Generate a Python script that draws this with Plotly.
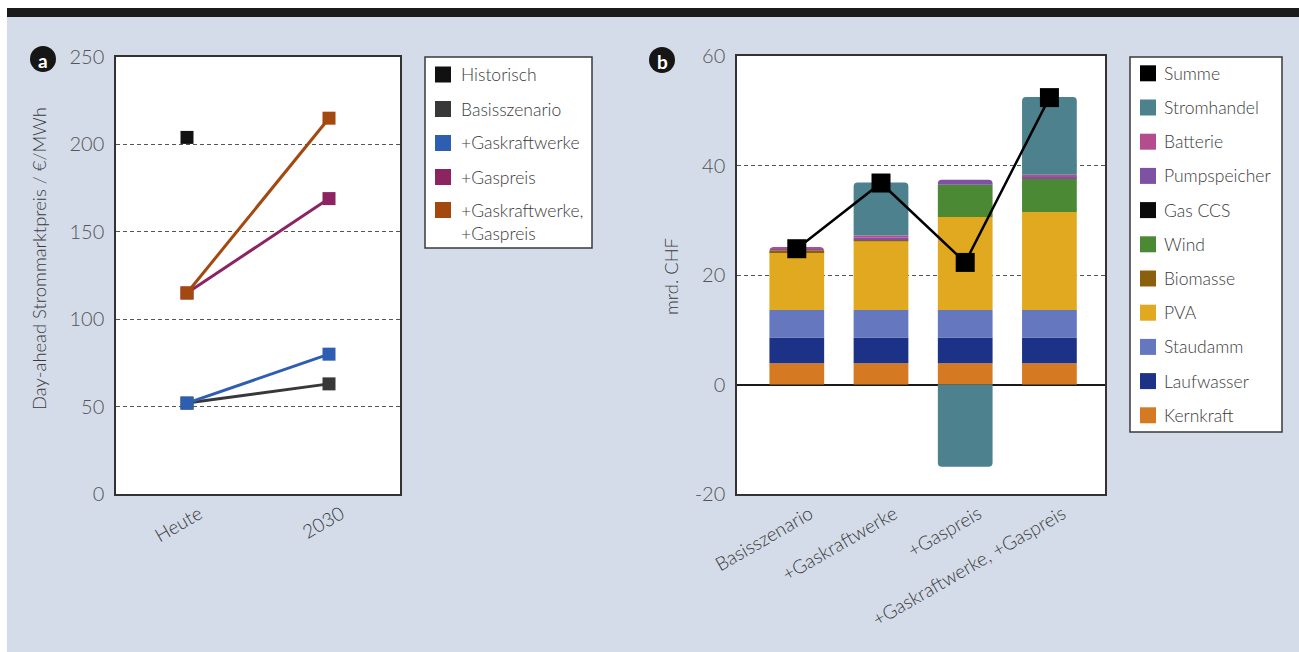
import plotly.graph_objects as go

W, H = 1299, 652

# ---- Panel a: day-ahead electricity prices ----
zeitpunkte = ["Heute", "2030"]
historisch = [204, None]
basisszenario = [52, 63]
gaskraftwerke = [52, 80]
gaspreis = [115, 169]
gaskraftwerke_gaspreis = [115, 215]

serien_a = ["Historisch", "Basisszenario", "+Gaskraftwerke", "+Gaspreis", "+Gaskraftwerke,<br>+Gaspreis"]
farben_a = ["#111111", "#383838", "#2d5eb2", "#8c2462", "#a3480f"]
ticks_a = [0, 50, 100, 150, 200, 250]

# ---- Panel b: costs per scenario (mrd. CHF) ----
szenarien = ["Basisszenario", "+Gaskraftwerke", "+Gaspreis", "+Gaskraftwerke, +Gaspreis"]
kernkraft = [3.9, 3.9, 3.9, 3.9]
laufwasser = [4.7, 4.7, 4.7, 4.7]
staudamm = [5.0, 5.0, 5.0, 5.0]
pva = [10.6, 12.5, 17.0, 17.9]
biomasse = [0.3, 0.4, 0.0, 0.0]
wind = [0.0, 0.0, 5.9, 6.2]
gas_ccs = [0.0, 0.0, 0.0, 0.0]
pumpspeicher = [0.4, 0.3, 0.9, 0.3]
batterie = [0.2, 0.4, 0.0, 0.3]
stromhandel = [0.0, 9.7, -15.0, 14.2]
summe = [24.8, 36.8, 22.3, 52.4]
ticks_b = [-20, 0, 20, 40, 60]

# stacking order from bottom to top
komponenten = [
    ("Kernkraft", kernkraft, "#d57a22"),
    ("Laufwasser", laufwasser, "#1c3287"),
    ("Staudamm", staudamm, "#6577bf"),
    ("PVA", pva, "#e0a920"),
    ("Biomasse", biomasse, "#8a600e"),
    ("Wind", wind, "#4b8934"),
    ("Gas CCS", gas_ccs, "#0a0a0a"),
    ("Pumpspeicher", pumpspeicher, "#7e51a4"),
    ("Batterie", batterie, "#b44d8b"),
    ("Stromhandel", stromhandel, "#4d818e"),
]

FONT = "Lato"
TXT = "#3a3a3a"


def fx(x):
    return x / W


def fy(y):
    return 1 - y / H


fig = go.Figure()

# panel a lines
werte_a = [historisch, basisszenario, gaskraftwerke, gaspreis, gaskraftwerke_gaspreis]
for name, werte, farbe in zip(serien_a, werte_a, farben_a):
    fig.add_trace(go.Scatter(
        x=zeitpunkte, y=werte, name=name, mode="lines+markers",
        line=dict(color=farbe, width=3),
        marker=dict(symbol="square", size=13, color=farbe),
        xaxis="x", yaxis="y", showlegend=False, cliponaxis=False,
    ))

# panel b stacked bars
for name, werte, farbe in komponenten:
    fig.add_trace(go.Bar(
        x=szenarien, y=werte, name=name, marker=dict(color=farbe, line=dict(width=0)),
        width=0.65, xaxis="x2", yaxis="y2", showlegend=False,
    ))

fig.add_trace(go.Scatter(
    x=szenarien, y=summe, name="Summe", mode="lines+markers",
    line=dict(color="#000000", width=2.5),
    marker=dict(symbol="square", size=19, color="#000000"),
    xaxis="x2", yaxis="y2", showlegend=False, cliponaxis=False,
))

achse_y = dict(
    showline=True, mirror=True, linecolor="#333333", linewidth=1.5,
    showgrid=True, gridcolor="#555555", gridwidth=1, griddash="4px,3px",
    ticks="", tickfont=dict(family=FONT, size=20, color="#555555", weight=300),
    ticklabelstandoff=6, zeroline=False, automargin=False,
)
achse_x = dict(
    type="category", showline=True, mirror=True, linecolor="#333333", linewidth=1.5,
    showgrid=False, ticks="", tickangle=-30, zeroline=False, automargin=False,
)

fig.update_layout(
    template="none",
    width=W, height=H,
    margin=dict(l=0, r=0, t=0, b=0, pad=0, autoexpand=False),
    paper_bgcolor="#d4dce9",
    plot_bgcolor="#ffffff",
    barmode="relative",
    barcornerradius=4,
    font=dict(family=FONT, color=TXT),
    xaxis=dict(achse_x, domain=[fx(116), fx(400)], anchor="y", range=[-0.5, 1.5],
               ticklabelshift=12,
               tickfont=dict(family=FONT, size=19, color=TXT, weight=300)),
    yaxis=dict(achse_y, domain=[fy(494), fy(57)], anchor="x", range=[0, 250],
               tickvals=ticks_a, ticktext=[str(v) for v in ticks_a]),
    xaxis2=dict(achse_x, domain=[fx(737), fx(1105)], anchor="y2", range=[-0.71, 3.66],
                ticklabelshift=13,
                tickfont=dict(family=FONT, size=19, color=TXT, weight=300)),
    yaxis2=dict(achse_y, domain=[fy(494), fy(56)], anchor="x2", range=[-20, 60],
                tickvals=ticks_b, ticktext=[str(v) for v in ticks_b],
                zeroline=True, zerolinecolor="#1a1a1a", zerolinewidth=2),
)

shapes = []
annotations = []

# page frame: white margin strip and black header band
shapes.append(dict(type="rect", xref="paper", yref="paper", x0=0, x1=1, y0=fy(8), y1=1,
                   fillcolor="#ffffff", line=dict(width=0), layer="below"))
shapes.append(dict(type="rect", xref="paper", yref="paper", x0=0, x1=fx(7), y0=0, y1=1,
                   fillcolor="#ffffff", line=dict(width=0), layer="below"))
shapes.append(dict(type="rect", xref="paper", yref="paper", x0=fx(7), x1=1, y0=fy(17), y1=fy(8),
                   fillcolor="#1b1b1b", line=dict(width=0), layer="below"))

# panel badges
for buchstabe, cx, cy in [("a", 43, 59), ("b", 662, 60)]:
    r = 13
    shapes.append(dict(type="circle", xref="paper", yref="paper",
                       x0=fx(cx - r), x1=fx(cx + r), y0=fy(cy + r), y1=fy(cy - r),
                       fillcolor="#161616", line=dict(width=0)))
    annotations.append(dict(text="<b>%s</b>" % buchstabe, x=fx(cx), y=fy(cy + 1), xref="paper", yref="paper",
                            showarrow=False, xanchor="center", yanchor="middle",
                            font=dict(family=FONT, size=19, color="#ffffff")))

# axis titles
annotations.append(dict(text="Day-ahead Strommarktpreis / €/MWh", x=fx(39), y=fy(259),
                        xref="paper", yref="paper", showarrow=False, textangle=-90,
                        xanchor="center", yanchor="middle",
                        font=dict(family=FONT, size=18.4, color=TXT, weight=300)))
annotations.append(dict(text="mrd. CHF", x=fx(671), y=fy(277),
                        xref="paper", yref="paper", showarrow=False, textangle=-90,
                        xanchor="center", yanchor="middle",
                        font=dict(family=FONT, size=18.4, color=TXT, weight=300)))


def legende(x0, x1, y0, y1, eintraege, mx, tx):
    shapes.append(dict(type="rect", xref="paper", yref="paper",
                       x0=fx(x0), x1=fx(x1), y0=fy(y1), y1=fy(y0),
                       fillcolor="#ffffff", line=dict(color="#3a3a3a", width=1.5)))
    for text, farbe, ym, yt in eintraege:
        s = 8
        shapes.append(dict(type="rect", xref="paper", yref="paper",
                           x0=fx(mx - s), x1=fx(mx + s), y0=fy(ym + s), y1=fy(ym - s),
                           fillcolor=farbe, line=dict(width=0)))
        annotations.append(dict(text=text, x=fx(tx), y=fy(yt), xref="paper", yref="paper",
                                showarrow=False, xanchor="left", yanchor="middle", align="left",
                                font=dict(family=FONT, size=17.5, color=TXT, weight=300)))


# legend for panel a
pos_a = [(74.5, 74.5), (109, 109), (143, 143), (177, 177), (210, 222)]
legende(425, 592, 57, 248,
        [(n, c, p[0], p[1]) for n, c, p in zip(serien_a, farben_a, pos_a)], 443, 459)

# legend for panel b (top to bottom)
eintraege_b = [("Summe", "#000000")] + [(n, c) for n, _, c in reversed(komponenten)]
legende(1130, 1282, 57, 432,
        [(n, c, 73.3 + 34.2 * i, 73.3 + 34.2 * i) for i, (n, c) in enumerate(eintraege_b)], 1148, 1162)

fig.update_layout(shapes=shapes, annotations=annotations)

fig.write_html("out.html")
